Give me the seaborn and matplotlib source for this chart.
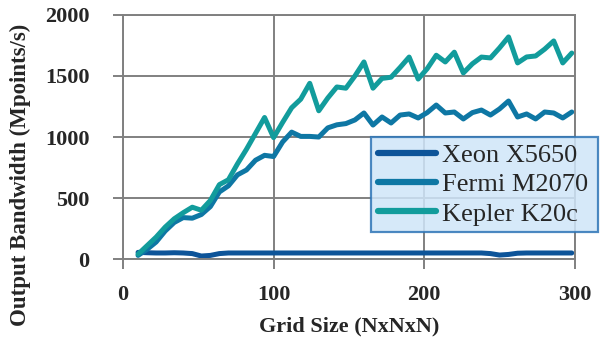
import numpy as np
import pandas as pd
import matplotlib
matplotlib.use("Agg")
import matplotlib.pyplot as plt
import seaborn as sns

grid_size = list(range(10, 299, 6))
xeon = [55, 52, 50, 50, 52, 50, 45, 25, 30, 45, 50, 50, 50, 50, 50, 50, 50, 50, 50, 50,
        50, 50, 50, 50, 50, 50, 50, 50, 50, 50, 50, 50, 50, 50, 50, 50, 50, 50, 50, 45,
        33, 38, 48, 50, 50, 50, 50, 50, 50]
fermi = [30, 80, 140, 230, 300, 340, 335, 365, 430, 550, 600, 690, 730, 810, 850, 840,
         960, 1040, 1005, 1005, 1000, 1075, 1100, 1110, 1140, 1197, 1098, 1164, 1115,
         1180, 1189, 1156, 1200, 1262, 1197, 1205, 1148, 1200, 1221, 1180, 1230, 1295,
         1164, 1189, 1148, 1205, 1197, 1156, 1205]
kepler = [40, 110, 180, 262, 330, 380, 425, 400, 480, 610, 650, 780, 900, 1030, 1160,
          995, 1120, 1240, 1310, 1440, 1215, 1320, 1410, 1400, 1500, 1615, 1400, 1480,
          1490, 1570, 1655, 1475, 1560, 1670, 1615, 1695, 1525, 1600, 1655, 1648, 1730,
          1820, 1607, 1656, 1664, 1720, 1787, 1607, 1688]
series_names = ["Xeon X5650", "Fermi M2070", "Kepler K20c"]
colors = ["#0d5499", "#0e77a4", "#129c9c"]
x_ticks = [0, 100, 200, 300]
y_ticks = [0, 500, 1000, 1500, 2000]

df = pd.concat([
    pd.DataFrame({"x": grid_size, "y": vals, "series": name})
    for name, vals in zip(series_names, [xeon, fermi, kepler])
])

sns.set_theme(style="white")
plt.rcParams['font.family'] = ['Liberation Serif', 'DejaVu Serif']

fig = plt.figure(figsize=(6, 3.4), dpi=100)
ax = fig.add_axes([0.205, 0.238, 0.753, 0.718])

sns.lineplot(data=df, x="x", y="y", hue="series", hue_order=series_names,
             palette=colors, linewidth=3.6, ax=ax, legend=True,
             solid_capstyle="round", solid_joinstyle="round")

ax.set_xlim(0, 300)
ax.set_ylim(0, 2000)
ax.set_xticks(x_ticks)
ax.set_yticks(y_ticks)
ax.set_xticklabels([str(t) for t in x_ticks], fontsize=16, fontweight="bold")
ax.set_yticklabels([str(t) for t in y_ticks], fontsize=16, fontweight="bold")
ax.grid(True, color="#808080", linewidth=1.4)
ax.set_axisbelow(True)
for s in ax.spines.values():
    s.set_color("#808080")
    s.set_linewidth(1.4)
ax.tick_params(axis="both", direction="out", length=7, width=1.4, color="#808080",
               bottom=True, left=True)
ax.tick_params(axis="x", pad=12)
ax.tick_params(axis="y", pad=17)
ax.set_xlabel("Grid Size (NxNxN)", fontsize=16, fontweight="bold")
ax.set_ylabel("Output Bandwidth (Mpoints/s)", fontsize=16.5, fontweight="bold")
ax.xaxis.set_label_coords(0.5, -0.275)
ax.yaxis.set_label_coords(-0.228, 0.344)
ax.xaxis.label.set_va("center")
ax.yaxis.label.set_va("center")

leg = ax.legend(loc="upper left", bbox_to_anchor=(0.549, 0.09, 0.502, 0.41),
                mode="expand", fontsize=19, frameon=True, fancybox=False,
                handlelength=2.2, borderpad=0.25, labelspacing=0.22, handletextpad=0.25,
                borderaxespad=0)
frame = leg.get_frame()
frame.set_facecolor("#cfe6f9")
frame.set_alpha(0.85)
frame.set_edgecolor("#2e75b6")
frame.set_linewidth(1.6)
for line in leg.get_lines():
    line.set_linewidth(4.5)
leg.set_clip_on(False)

fig.savefig("out.png", dpi=100)
